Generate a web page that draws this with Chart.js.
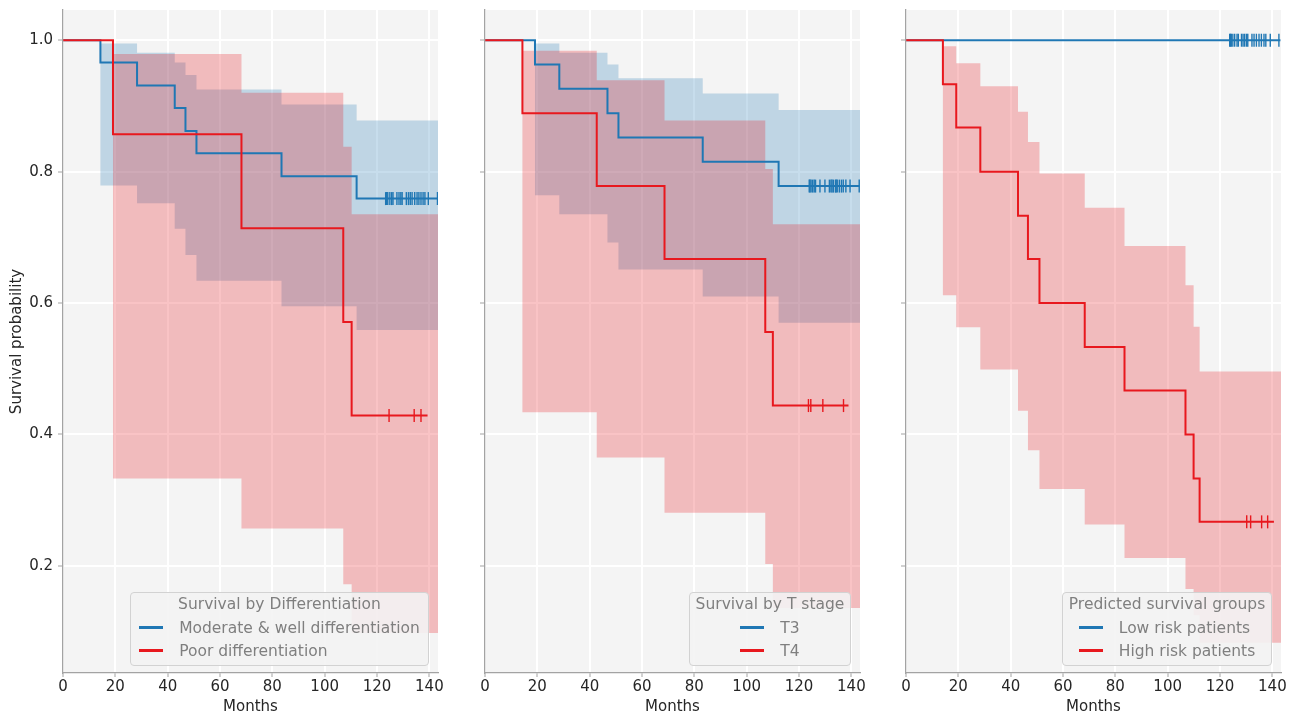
<!DOCTYPE html>
<html>
<head>
<meta charset="utf-8">
<script src="https://cdn.jsdelivr.net/npm/chart.js@4.4.1/dist/chart.umd.min.js"></script>
<style>
  html, body { margin: 0; padding: 0; background: #fff; width: 1296px; height: 716px; overflow: hidden; }
  canvas { position: absolute; top: 0; }
  .legend {
    position: absolute; top: 592px; height: 74px; box-sizing: border-box;
    border: 1px solid #d2d2d2; border-radius: 4px; background: rgba(243,243,243,0.9);
    display: flex; flex-direction: column; align-items: center;
    font: 15.5px "DejaVu Sans", sans-serif; color: #7f7f7f;
  }
  .legend .title { line-height: 23px; white-space: nowrap; }
  .legend .rows { display: flex; flex-direction: column; align-items: flex-start; }
  .legend .row { display: flex; align-items: center; height: 23px; white-space: nowrap; }
  .legend .swatch { width: 24px; height: 2.5px; margin-right: 16px; }
</style>
</head>
<body>
<canvas id="p1" width="450" height="716" style="left:0"></canvas>
<canvas id="p2" width="450" height="716" style="left:422px"></canvas>
<canvas id="p3" width="450" height="716" style="left:843px"></canvas>

<div class="legend" style="left:130px;width:299px">
  <div class="title">Survival by Differentiation</div>
  <div class="rows">
    <div class="row"><span class="swatch" style="background:#1f77b4"></span>Moderate &amp; well differentiation</div>
    <div class="row"><span class="swatch" style="background:rgb(232,24,30)"></span>Poor differentiation</div>
  </div>
</div>
<div class="legend" style="left:689px;width:162px">
  <div class="title">Survival by T stage</div>
  <div class="rows">
    <div class="row"><span class="swatch" style="background:#1f77b4"></span>T3</div>
    <div class="row"><span class="swatch" style="background:rgb(232,24,30)"></span>T4</div>
  </div>
</div>
<div class="legend" style="left:1062px;width:210px">
  <div class="title">Predicted survival groups</div>
  <div class="rows">
    <div class="row"><span class="swatch" style="background:#1f77b4"></span>Low risk patients</div>
    <div class="row"><span class="swatch" style="background:rgb(232,24,30)"></span>High risk patients</div>
  </div>
</div>

<script>
// axis ranges and ticks
const X_MAX = 143.3;
const Y_MIN = 0.037;
const Y_MAX = 1.046;
const X_TICKS = [0, 20, 40, 60, 80, 100, 120, 140];
const Y_TICKS = [0.2, 0.4, 0.6, 0.8, 1.0];

// Panel 1: differentiation
const modTimes  = [0, 14.3, 28.3, 42.7, 46.8, 51.0, 83.5, 112.2];
const modSurv   = [1, 0.966, 0.931, 0.897, 0.862, 0.828, 0.793, 0.759];
const modUpper  = [1, 0.995, 0.981, 0.966, 0.947, 0.925, 0.902, 0.878];
const modLower  = [1, 0.779, 0.752, 0.713, 0.673, 0.634, 0.595, 0.559];
const modEnd    = 143.1;
const modCensor = [123.3, 123.7, 124.1, 124.9, 125.6, 126.1, 127.6, 128.4, 129.1, 129.6, 131.2,
                   132.0, 132.7, 133.4, 134.4, 135.3, 136.0, 136.8, 137.6, 138.3, 139.6, 143.1];

const poorTimes  = [0, 19.1, 68.2, 107.1, 110.3];
const poorSurv   = [1, 0.857, 0.714, 0.571, 0.429];
const poorUpper  = [1, 0.979, 0.920, 0.838, 0.735];
const poorLower  = [1, 0.333, 0.257, 0.172, 0.098];
const poorEnd    = 139.3;
const poorCensor = [124.6, 134.2, 136.8];

// Panel 2: T stage
const t3Times  = [0, 19.1, 28.4, 46.8, 51.0, 83.2, 112.2];
const t3Surv   = [1, 0.963, 0.926, 0.889, 0.852, 0.815, 0.778];
const t3Upper  = [1, 0.995, 0.981, 0.963, 0.942, 0.919, 0.894];
const t3Lower  = [1, 0.764, 0.735, 0.692, 0.651, 0.610, 0.570];
const t3End    = 143.1;
const t3Censor = [123.9, 124.2, 124.6, 125.2, 125.8, 126.3, 128.0, 129.9, 131.6, 132.2, 132.6,
                  133.1, 133.9, 134.2, 134.6, 135.4, 136.2, 136.9, 137.9, 139.5, 143.0];

const t4Times  = [0, 14.3, 42.7, 68.6, 107.1, 110.0];
const t4Surv   = [1, 0.889, 0.778, 0.667, 0.556, 0.444];
const t4Upper  = [1, 0.984, 0.939, 0.878, 0.804, 0.720];
const t4Lower  = [1, 0.434, 0.365, 0.281, 0.203, 0.136];
const t4End    = 138.9;
const t4Censor = [123.6, 124.5, 129.1, 137.0];

// Panel 3: predicted risk groups
const lowTimes  = [0];
const lowSurv   = [1];
const lowEnd    = 143.1;
const lowCensor = [123.7, 124.0, 124.3, 124.9, 125.6, 126.5, 127.0, 128.2, 128.8, 129.4, 130.1,
                   130.6, 132.2, 133.0, 133.9, 134.9, 135.8, 136.8, 137.5, 139.2, 142.5];

const highTimes  = [0, 14.1, 19.2, 28.4, 42.8, 46.6, 51.0, 68.3, 83.5, 106.8, 109.9, 112.2];
const highSurv   = [1, 0.933, 0.867, 0.800, 0.733, 0.667, 0.600, 0.533, 0.467, 0.400, 0.333, 0.267];
const highUpper  = [1, 0.991, 0.965, 0.930, 0.891, 0.845, 0.797, 0.745, 0.687, 0.627, 0.564, 0.496];
const highLower  = [1, 0.612, 0.563, 0.499, 0.436, 0.376, 0.317, 0.263, 0.212, 0.165, 0.125, 0.083];
const highEnd    = 140.6;
const highCensor = [130.2, 131.7, 135.9, 138.2];

const BLUE = '#1f77b4';
const RED = 'rgb(232,24,30)';
const BLUE_FILL = 'rgba(31,119,180,0.25)';
const RED_FILL = 'rgba(232,24,30,0.26)';
const PLOT_BG = '#f4f4f4';
const AXIS_GRAY = '#a3a3a3';
const TEXT_COLOR = '#262626';

Chart.defaults.font.family = '"DejaVu Sans", sans-serif';

const plotBg = {
    id: 'plotBg',
    beforeDraw(chart) {
        const a = chart.chartArea;
        const ctx = chart.ctx;
        ctx.save();
        ctx.fillStyle = PLOT_BG;
        ctx.fillRect(a.left, a.top, a.right - a.left, a.bottom - a.top);
        ctx.restore();
    }
};

function stepPoints(times, values, end) {
    const pts = times.map((t, i) => ({ x: t, y: values[i] }));
    pts.push({ x: end, y: values[values.length - 1] });
    return pts;
}

function valueAt(times, values, t) {
    let v = values[0];
    times.forEach((tt, i) => { if (tt <= t) v = values[i]; });
    return v;
}

// one group -> band datasets (upper/lower) and line + censor datasets
function groupSets(g, bandOrder, lineOrder) {
    const bands = [];
    if (g.upper) {
        bands.push({
            data: stepPoints(g.times, g.upper, X_MAX), stepped: true,
            borderWidth: 0, borderColor: 'transparent', pointRadius: 0, fill: false, order: bandOrder + 1
        });
        bands.push({
            data: stepPoints(g.times, g.lower, X_MAX), stepped: true,
            borderWidth: 0, borderColor: 'transparent', pointRadius: 0,
            fill: '-1', backgroundColor: g.fill, order: bandOrder
        });
    }
    const lines = [
        {
            data: stepPoints(g.times, g.surv, g.end), stepped: true,
            borderColor: g.color, borderWidth: 2, pointRadius: 0, fill: false, order: lineOrder
        },
        {
            data: g.censor.map(c => ({ x: c, y: valueAt(g.times, g.surv, c) })),
            showLine: false, pointStyle: 'line', pointRotation: 90, pointRadius: 6.5,
            pointBorderWidth: 1.4, borderColor: g.color, backgroundColor: g.color, order: lineOrder
        }
    ];
    return { bands, lines };
}

function drawPanel(id, groups, showYLabels) {
    const a = groupSets(groups[0], 5, 2);
    const b = groupSets(groups[1], 3, 1);
    // bands first so that fill '-1' points at its own upper bound
    const datasets = [...a.bands, ...b.bands, ...a.lines, ...b.lines];

    new Chart(document.getElementById(id), {
        type: 'line',
        data: { datasets },
        plugins: [plotBg],
        options: {
            responsive: false,
            animation: false,
            layout: { padding: { top: 10, right: 12, left: 0, bottom: 0 } },
            plugins: { legend: { display: false }, tooltip: { enabled: false } },
            scales: {
                x: {
                    type: 'linear', min: 0, max: X_MAX,
                    afterBuildTicks: s => { s.ticks = X_TICKS.map(v => ({ value: v })); },
                    afterFit: s => { s.height = 43; s.paddingLeft = 0; s.paddingRight = 0; },
                    grid: { color: '#ffffff', lineWidth: 2, tickLength: 4, tickColor: AXIS_GRAY, tickWidth: 1 },
                    border: { display: true, color: AXIS_GRAY, width: 1.3, z: 1 },
                    ticks: { color: TEXT_COLOR, font: { size: 15 }, padding: 1, maxRotation: 0, autoSkip: false },
                    title: { display: true, text: 'Months', color: TEXT_COLOR, font: { size: 15 }, padding: { top: 0, bottom: 0 } }
                },
                y: {
                    type: 'linear', min: Y_MIN, max: Y_MAX,
                    afterBuildTicks: s => { s.ticks = Y_TICKS.map(v => ({ value: v })); },
                    afterFit: s => { s.width = 63; s.paddingTop = 0; s.paddingBottom = 0; },
                    grid: { color: '#ffffff', lineWidth: 2, tickLength: 5, tickColor: AXIS_GRAY, tickWidth: 1 },
                    border: { display: true, color: AXIS_GRAY, width: 1.3, z: 1 },
                    ticks: {
                        display: showYLabels, color: TEXT_COLOR, font: { size: 15 }, padding: 5,
                        callback: v => v.toFixed(1)
                    },
                    title: {
                        display: showYLabels, text: 'Survival probability', color: TEXT_COLOR,
                        font: { size: 15 }, padding: { top: 8, bottom: 0 }
                    }
                }
            }
        }
    });
}

drawPanel('p1', [
    { times: modTimes, surv: modSurv, upper: modUpper, lower: modLower, end: modEnd, censor: modCensor, color: BLUE, fill: BLUE_FILL },
    { times: poorTimes, surv: poorSurv, upper: poorUpper, lower: poorLower, end: poorEnd, censor: poorCensor, color: RED, fill: RED_FILL }
], true);

drawPanel('p2', [
    { times: t3Times, surv: t3Surv, upper: t3Upper, lower: t3Lower, end: t3End, censor: t3Censor, color: BLUE, fill: BLUE_FILL },
    { times: t4Times, surv: t4Surv, upper: t4Upper, lower: t4Lower, end: t4End, censor: t4Censor, color: RED, fill: RED_FILL }
], false);

drawPanel('p3', [
    { times: lowTimes, surv: lowSurv, upper: null, lower: null, end: lowEnd, censor: lowCensor, color: BLUE, fill: BLUE_FILL },
    { times: highTimes, surv: highSurv, upper: highUpper, lower: highLower, end: highEnd, censor: highCensor, color: RED, fill: RED_FILL }
], false);
</script>
</body>
</html>
